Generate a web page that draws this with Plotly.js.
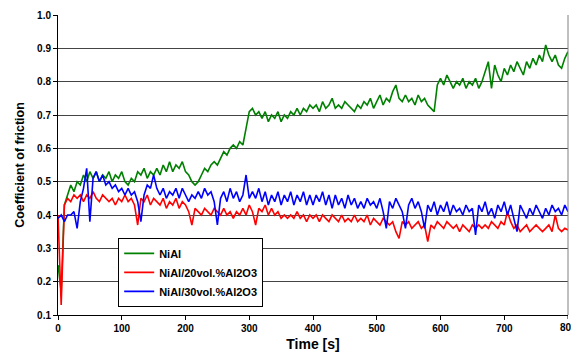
<!DOCTYPE html>
<html>
<head>
<meta charset="utf-8">
<script src="https://cdn.plot.ly/plotly-3.0.1.min.js"></script>
<style>html,body{margin:0;padding:0;background:#fff;}#chart{width:571px;height:355px;}</style>
</head>
<body>
<div id="chart"></div>
<script>
var timeS = [0,5,10,15,20,25,30,35,40,45,50,55,60,65,70,75,80,85,90,95,
100,105,110,115,120,125,130,135,140,145,150,155,160,165,170,175,180,185,190,195,
200,205,210,215,220,225,230,235,240,245,250,255,260,265,270,275,280,285,290,295,
300,305,310,315,320,325,330,335,340,345,350,355,360,365,370,375,380,385,390,395,
400,405,410,415,420,425,430,435,440,445,450,455,460,465,470,475,480,485,490,495,
500,505,510,515,520,525,530,535,540,545,550,555,560,565,570,575,580,585,590,595,
600,605,610,615,620,625,630,635,640,645,650,655,660,665,670,675,680,685,690,695,
700,705,710,715,720,725,730,735,740,745,750,755,760,765,770,775,780,785,790,795,800];

var niAl = [0.25,0.17,0.43,0.46,0.49,0.47,0.50,0.49,0.52,0.50,0.53,0.51,0.53,0.50,0.52,0.51,0.53,0.50,0.52,0.51,
0.53,0.50,0.49,0.51,0.50,0.53,0.52,0.54,0.51,0.53,0.52,0.54,0.52,0.55,0.53,0.56,0.53,0.55,0.54,0.56,
0.53,0.52,0.50,0.49,0.50,0.52,0.54,0.53,0.55,0.56,0.55,0.57,0.59,0.58,0.60,0.61,0.60,0.62,0.61,0.66,
0.71,0.72,0.70,0.71,0.69,0.71,0.68,0.70,0.69,0.71,0.68,0.70,0.69,0.71,0.70,0.72,0.70,0.72,0.71,0.73,
0.72,0.73,0.71,0.74,0.72,0.73,0.75,0.72,0.73,0.72,0.74,0.73,0.72,0.71,0.73,0.72,0.74,0.73,0.75,0.72,
0.74,0.76,0.73,0.75,0.74,0.77,0.79,0.75,0.74,0.76,0.74,0.75,0.73,0.76,0.74,0.75,0.73,0.72,0.71,0.79,
0.81,0.79,0.82,0.80,0.78,0.80,0.79,0.81,0.78,0.80,0.79,0.81,0.78,0.80,0.83,0.86,0.78,0.85,0.82,0.80,
0.84,0.82,0.85,0.83,0.86,0.84,0.82,0.86,0.84,0.87,0.85,0.88,0.86,0.91,0.88,0.86,0.88,0.85,0.84,0.87,0.89];

var niAl20 = [0.40,0.13,0.43,0.45,0.44,0.46,0.45,0.46,0.44,0.46,0.45,0.47,0.45,0.44,0.46,0.45,0.44,0.45,0.43,0.45,
0.44,0.46,0.44,0.45,0.43,0.37,0.45,0.44,0.46,0.43,0.45,0.44,0.43,0.45,0.42,0.44,0.43,0.45,0.42,0.44,
0.43,0.41,0.37,0.42,0.41,0.40,0.42,0.41,0.40,0.42,0.41,0.40,0.42,0.40,0.41,0.39,0.41,0.40,0.42,0.40,
0.43,0.41,0.37,0.42,0.41,0.43,0.40,0.42,0.40,0.41,0.39,0.40,0.39,0.40,0.39,0.41,0.39,0.40,0.38,0.40,
0.39,0.40,0.38,0.40,0.39,0.38,0.40,0.39,0.38,0.40,0.38,0.39,0.38,0.40,0.38,0.39,0.38,0.40,0.37,0.39,
0.38,0.37,0.39,0.38,0.37,0.38,0.35,0.33,0.38,0.37,0.38,0.36,0.37,0.38,0.36,0.37,0.32,0.37,0.36,0.38,
0.37,0.36,0.38,0.37,0.36,0.37,0.35,0.37,0.36,0.35,0.37,0.36,0.37,0.36,0.37,0.36,0.38,0.37,0.36,0.38,
0.37,0.41,0.38,0.36,0.37,0.35,0.36,0.37,0.35,0.36,0.37,0.36,0.35,0.36,0.37,0.35,0.40,0.36,0.35,0.36,0.355];

var niAl30 = [0.39,0.40,0.38,0.40,0.40,0.41,0.36,0.44,0.48,0.54,0.38,0.51,0.53,0.50,0.52,0.49,0.50,0.48,0.49,0.47,
0.48,0.46,0.48,0.46,0.47,0.44,0.38,0.46,0.49,0.48,0.52,0.48,0.46,0.48,0.45,0.47,0.46,0.48,0.45,0.48,
0.46,0.44,0.46,0.45,0.47,0.45,0.48,0.46,0.47,0.44,0.37,0.45,0.47,0.44,0.48,0.45,0.47,0.44,0.46,0.52,
0.45,0.47,0.45,0.48,0.44,0.47,0.43,0.46,0.44,0.47,0.43,0.46,0.44,0.47,0.43,0.46,0.44,0.47,0.43,0.46,
0.43,0.46,0.44,0.47,0.43,0.46,0.42,0.46,0.43,0.45,0.42,0.46,0.43,0.45,0.42,0.44,0.42,0.45,0.43,0.44,
0.42,0.45,0.41,0.36,0.44,0.42,0.45,0.43,0.41,0.36,0.43,0.45,0.42,0.44,0.41,0.36,0.43,0.41,0.44,0.40,
0.43,0.41,0.44,0.40,0.43,0.41,0.42,0.40,0.43,0.41,0.42,0.34,0.43,0.41,0.44,0.40,0.42,0.39,0.43,0.41,
0.44,0.40,0.43,0.39,0.35,0.43,0.41,0.39,0.42,0.40,0.43,0.41,0.39,0.42,0.40,0.43,0.41,0.42,0.40,0.43,0.41];

var seriesNames = ['NiAl', 'NiAl/20vol.%Al2O3', 'NiAl/30vol.%Al2O3'];
var seriesColors = ['#008000', '#ff0000', '#0000ff'];
var seriesData = [niAl, niAl20, niAl30];
var xTicks = [0,100,200,300,400,500,600,700];
var yTicks = [0.1,0.2,0.3,0.4,0.5,0.6,0.7,0.8,0.9,1.0];

var fam = '"Liberation Sans", Arial, sans-serif';

var traces = seriesData.map(function (ys, i) {
  return {
    x: timeS, y: ys, type: 'scatter', mode: 'lines',
    name: '<b>' + seriesNames[i] + '</b>',
    line: {color: seriesColors[i], width: 1.6}
  };
});

var layout = {
  width: 571, height: 355,
  margin: {l: 58, r: 3, t: 15, b: 40},
  paper_bgcolor: '#fff', plot_bgcolor: '#fff',
  font: {family: fam, color: '#000', size: 10},
  showlegend: true,
  legend: {
    x: 0.118, y: 0.257, xanchor: 'left', yanchor: 'top',
    bgcolor: '#fff', bordercolor: '#000', borderwidth: 1,
    font: {family: fam, size: 11, color: '#000'},
    tracegroupgap: 0
  },
  xaxis: {
    range: [0, 800], tickvals: xTicks,
    ticktext: xTicks.map(function (v) { return '<b>' + v + '</b>'; }),
    showgrid: false, zeroline: false,
    showline: true, linecolor: '#000', linewidth: 1,
    ticks: 'outside', ticklen: 4, tickcolor: '#000',
    tickfont: {family: fam, size: 10, color: '#000'},
    title: {text: '<b>Time [s]</b>', font: {family: fam, size: 14, color: '#000'}, standoff: 6}
  },
  yaxis: {
    range: [0.1, 1.0], tickvals: yTicks,
    ticktext: yTicks.map(function (v) { return '<b>' + v.toFixed(1) + '</b>'; }),
    showgrid: true, gridcolor: '#444', gridwidth: 1, zeroline: false,
    showline: true, linecolor: '#000', linewidth: 1,
    ticks: 'outside', ticklen: 4, tickcolor: '#000',
    tickfont: {family: fam, size: 10, color: '#000'},
    title: {text: '<b>Coefficient of friction</b>', font: {family: fam, size: 12.5, color: '#000'}, standoff: 9}
  },
  shapes: [
    {type: 'line', xref: 'paper', yref: 'paper', x0: 1, x1: 1, y0: 0, y1: 1, line: {color: '#808080', width: 1}},
    {type: 'line', xref: 'x', yref: 'paper', x0: 800, x1: 800, y0: 0, y1: -0.0133, line: {color: '#000', width: 1}}
  ],
  annotations: [
    {xref: 'x', yref: 'paper', x: 800, y: 0, yshift: -5, xanchor: 'center', yanchor: 'top',
     text: '<b>800</b>', showarrow: false, font: {family: fam, size: 10, color: '#000'}}
  ]
};

Plotly.newPlot('chart', traces, layout, {displayModeBar: false, staticPlot: true});
</script>
</body>
</html>
